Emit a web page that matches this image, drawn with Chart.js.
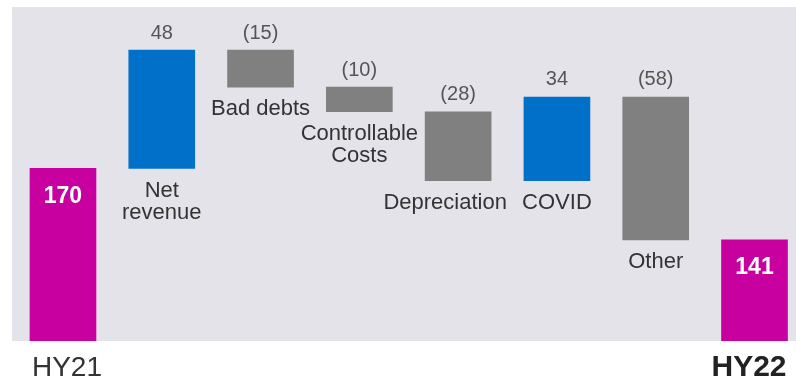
<!DOCTYPE html>
<html>
<head>
<meta charset="utf-8">
<script src="https://cdn.jsdelivr.net/npm/chart.js@4"></script>
<style>
  html, body { margin: 0; padding: 0; background: #fff; }
  #wrap { width: 796px; height: 379px; }
</style>
</head>
<body>
<div id="wrap"><canvas id="bridge"></canvas></div>
<script>
// ---- data ----
const categories = ["HY21", "Net\nrevenue", "Bad debts", "Controllable\nCosts", "Depreciation", "COVID", "Other", "HY22"];
const startValue = 170;
const changes = [48, -15, -10, -28, 34, -58];
const endValue = 141;
const axisMin = 100;
const axisMax = 235.5;

// ---- look ----
const FONT = '"Liberation Sans", Arial, Helvetica, sans-serif';
const colors = { total: "#c8009f", up: "#0070c9", down: "#808080" };
const panelColor = "#e4e3ea";
const labelShift = { 4: -13 }; // Depreciation sits a bit left in the original

// build floating ranges for the waterfall
const ranges = [[axisMin, startValue]];
const kinds = ["total"];
const valueLabels = [String(startValue)];
let running = startValue;
changes.forEach((c) => {
  const next = running + c;
  ranges.push([Math.min(running, next), Math.max(running, next)]);
  kinds.push(c >= 0 ? "up" : "down");
  valueLabels.push(c >= 0 ? String(c) : "(" + Math.abs(c) + ")");
  running = next;
});
ranges.push([axisMin, endValue]);
kinds.push("total");
valueLabels.push(String(endValue));

const points = ranges.map((r, i) => ({ x: i, y: r }));

// grey panel behind the bars
const panelPlugin = {
  id: "panel",
  beforeDraw(chart) {
    const { ctx, chartArea: a } = chart;
    ctx.save();
    ctx.fillStyle = panelColor;
    ctx.fillRect(a.left, a.top, a.right - a.left, a.bottom - a.top);
    ctx.restore();
  },
};

// all the text around the bars
const labelPlugin = {
  id: "labels",
  afterDatasetsDraw(chart) {
    const { ctx } = chart;
    const meta = chart.getDatasetMeta(0);
    ctx.save();
    ctx.textBaseline = "middle";
    meta.data.forEach((bar, i) => {
      const p = bar.getProps(["x", "y", "base", "width"], true);
      const top = Math.min(p.y, p.base);
      const bottom = Math.max(p.y, p.base);
      const left = p.x - p.width / 2;
      const right = p.x + p.width / 2;

      if (kinds[i] === "total") {
        ctx.fillStyle = "#ffffff";
        ctx.textAlign = "center";
        ctx.font = "bold 23px " + FONT;
        ctx.fillText(valueLabels[i], p.x, top + 28);

        const last = i === meta.data.length - 1;
        ctx.fillStyle = last ? "#222" : "#333";
        ctx.font = (last ? "bold 30px " : "28px ") + FONT;
        ctx.textAlign = last ? "right" : "left";
        ctx.fillText(categories[i], last ? right - 1 : left + 2, 368);
      } else {
        ctx.fillStyle = "#555";
        ctx.textAlign = "center";
        ctx.font = "20px " + FONT;
        ctx.fillText(valueLabels[i], p.x, top - 17);

        ctx.fillStyle = "#333";
        ctx.font = "22px " + FONT;
        const cx = p.x + (labelShift[i] || 0);
        categories[i].split("\n").forEach((line, k) => {
          ctx.fillText(line, cx, bottom + 22 + k * 22);
        });
      }
    });
    ctx.restore();
  },
};

new Chart(document.getElementById("bridge"), {
  type: "bar",
  data: {
    datasets: [
      {
        data: points,
        backgroundColor: kinds.map((k) => colors[k]),
        borderWidth: 0,
        barThickness: 66,
      },
    ],
  },
  options: {
    responsive: true,
    maintainAspectRatio: false,
    animation: false,
    layout: { padding: { left: 12, top: 7, right: 0, bottom: 38 } },
    scales: {
      x: { type: "linear", min: -0.516, max: 7.42, offset: false, display: false },
      y: { min: axisMin, max: axisMax, display: false },
    },
    plugins: {
      legend: { display: false },
      tooltip: { enabled: false },
    },
  },
  plugins: [panelPlugin, labelPlugin],
});
</script>
</body>
</html>
